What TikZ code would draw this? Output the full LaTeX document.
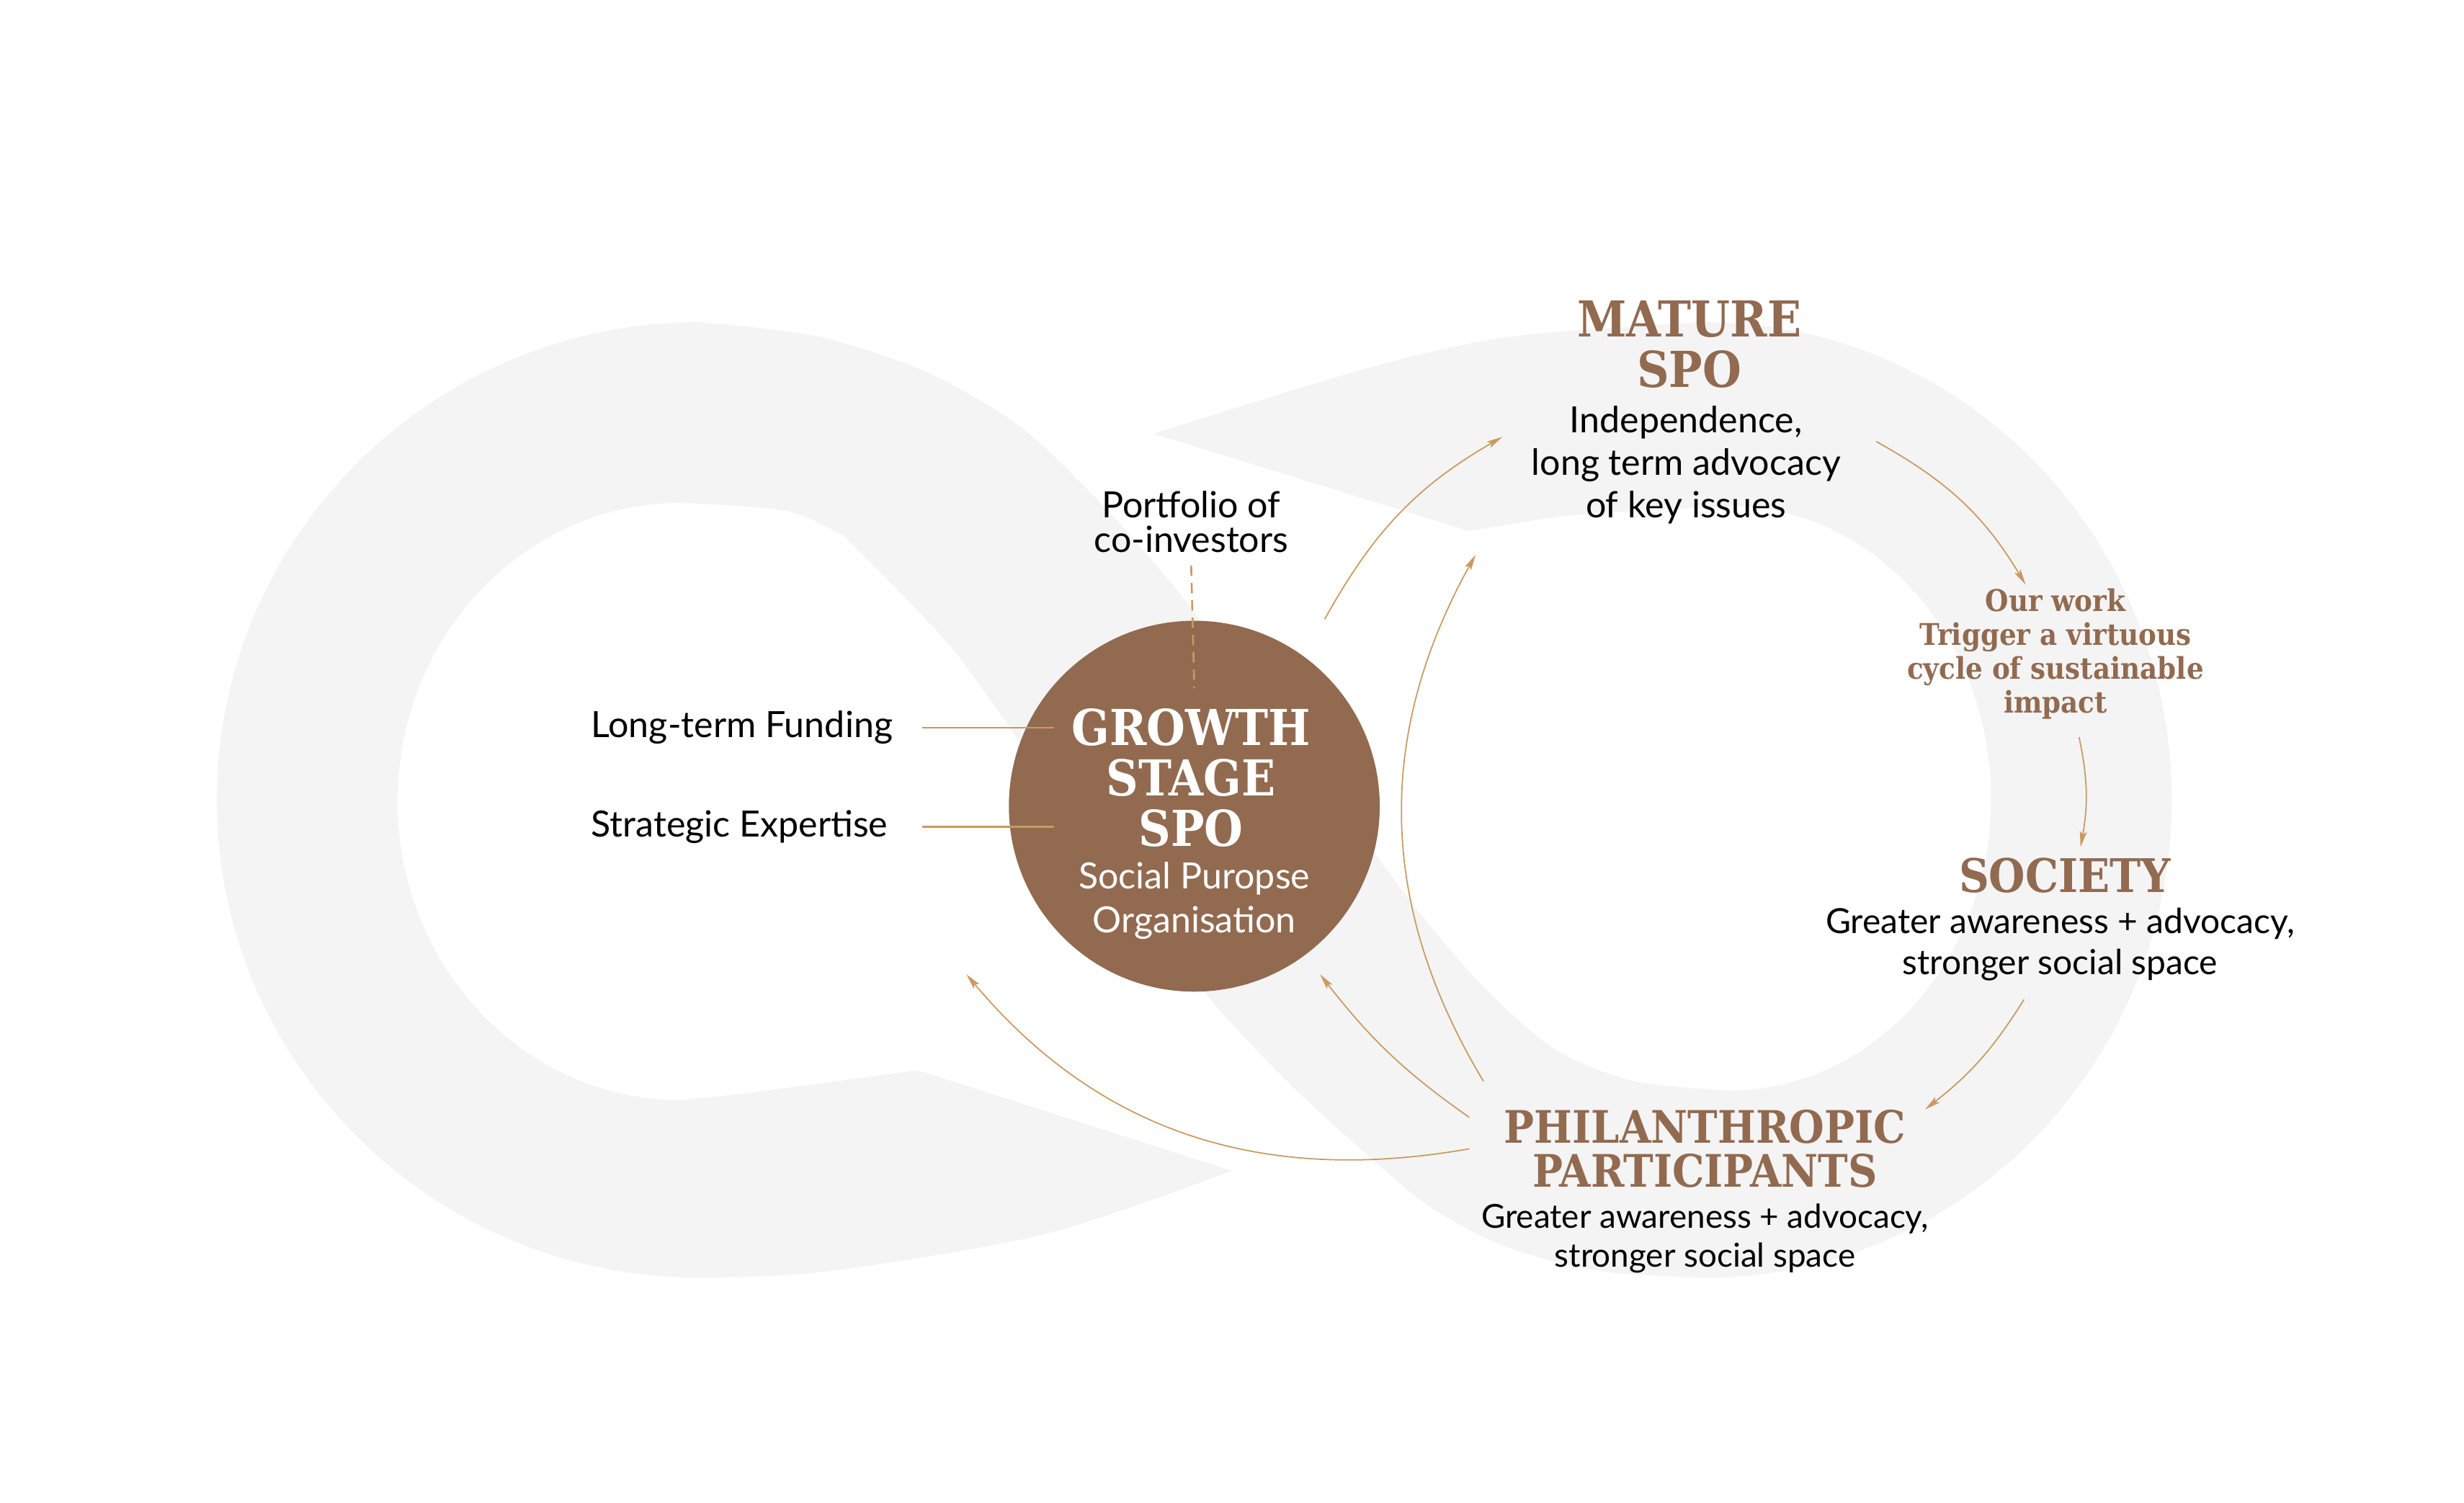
\documentclass[tikz,border=0pt]{standalone}
\usepackage{fontspec}
\setmainfont{Lato}
\newfontfamily\slabfont{DejaVu Serif Condensed}
\usepackage{xcolor}
\usepackage{tikz}
\usetikzlibrary{positioning}
\usetikzlibrary{arrows.meta}
\usetikzlibrary{calc}

\definecolor{spobrown}{HTML}{926A50}
\definecolor{flowtan}{HTML}{C99A5F}
\definecolor{ribbongray}{HTML}{F4F4F4}

\begin{document}
\begin{tikzpicture}[
x=1pt, y=1pt,
hub/.style={
  circle,
  fill=spobrown,
  minimum size=236pt,
  inner sep=0pt
},
heading/.style={
  font=\slabfont\bfseries\fontsize{31.5}{32}\selectfont,
  text=spobrown,
  align=center,
  inner sep=0pt
},
headw/.style={
  heading,
  text=white
},
note/.style={
  font=\slabfont\bfseries\fontsize{19}{21.5}\selectfont,
  text=spobrown,
  align=center,
  inner sep=0pt
},
body/.style={
  font=\fontsize{23}{27}\selectfont,
  align=center,
  inner sep=0pt
},
subw/.style={
  body,
  font=\fontsize{23}{28}\selectfont,
  text=white
},
  flow/.style={-{Stealth[length=10pt,width=4.5pt,inset=2pt]}, line width=0.8pt, flowtan},
  feed/.style={line width=1.2pt, flowtan},
  tie/.style={line width=1.2pt, flowtan, dash pattern=on 6.5pt off 4.5pt}
]
\useasboundingbox (0,0) rectangle (1568,956);

% ---- background infinity ribbon ----
\fill[ribbongray]
  plot[smooth] coordinates {(734,680) (871,722) (963,742) (1085,751)}
  arc[start angle=90, end angle=-90, x radius=297, y radius=304]
  -- plot[smooth] coordinates {(1085,143) (1020,147) (960,162) (910,188) (860,230) (816,271) (767,324) (700,412) (649,484) (602,548) (537,615)}
  -- plot[smooth] coordinates {(537,615) (500,631) (433,636)}
  arc[start angle=90, end angle=270, x radius=180, y radius=190]
  -- plot[smooth] coordinates {(433,256) (480,261) (584,275)}
  -- (784,211)
  -- plot[smooth] coordinates {(784,211) (666,171) (527,147) (445,143)}
  arc[start angle=-90, end angle=-270, x radius=307, y radius=304]
  -- plot[smooth] coordinates {(445,751) (520,742) (590,719) (650,684) (702,634) (751,578) (811,498) (871,418) (905,373) (945,327) (990,288) (1040,268) (1100,262)}
  arc[start angle=-90, end angle=90, x radius=167, y radius=186]
  -- plot[smooth] coordinates {(1100,634) (1000,628) (935,618)}
  -- cycle;

% ---- GROWTH STAGE SPO ----
\node[hub] (growth) at (760,443) {};
\node[headw] (growthtxt) at (758,461) {GROWTH\\STAGE\\SPO};
\node[subw] (growthsub) at (760,383) {Social Puropse\\Organisation};

\node[body, font=\fontsize{23}{22}\selectfont] (portf) at (758,624) {Portfolio of\\co-investors};
\node[body, anchor=west] (fund) at (376,493) {Long-term Funding};
\node[body, anchor=west] (strat) at (376,430) {Strategic Expertise};

\draw[tie] ([yshift=-28pt]portf.center) -- ([yshift=75pt]growth.center);
\draw[feed] ($(growth.west |- fund.east)+(-55,0)$) -- ($(growth.west |- fund.east)+(29,0)$);
\draw[feed] ($(growth.west |- strat.east)+(-55,0)$) -- ($(growth.west |- strat.east)+(29,0)$);

% ---- cycle ----
\node[heading] (mature) at (1075,737) {MATURE\\SPO};
\node[body] (matdesc) at (1073,660) {Independence,\\long term advocacy\\of key issues};

\node[note] (ourwork) at (1308,540) {Our work\\Trigger a virtuous\\cycle of sustainable\\impact};

\node[heading, font=\slabfont\bfseries\fontsize{29.5}{32}\selectfont] (society) at (1314,399) {SOCIETY};
\node[body, font=\fontsize{22}{26}\selectfont] (socdesc) at (1311,355) {Greater awareness + advocacy,\\stronger social space};

\node[heading, font=\slabfont\bfseries\fontsize{28.5}{28}\selectfont] (phil) at (1085,225) {PHILANTHROPIC\\PARTICIPANTS};
\node[body, font=\fontsize{21}{25}\selectfont] (phildesc) at (1085,168) {Greater awareness + advocacy,\\stronger social space};

\draw[flow] ([shift={(83,119)}]growth.center) to[out=61,in=210] ([shift={(-117,18)}]matdesc.center);
\draw[flow] ([shift={(121,15)}]matdesc.center) to[out=-29,in=121] ([shift={(-19,44)}]ourwork.center);
\draw[flow] ([shift={(15,-53)}]ourwork.center) to[out=-78,in=80] ([shift={(10,18)}]society.center);
\draw[flow] ([shift={(-23,-35)}]socdesc.center) to[out=-122,in=38] ([shift={(140,25)}]phil.center);
\draw[flow] ([shift={(-141,43)}]phil.center) to[out=121,in=241] ([shift={(-134,-57)}]matdesc.center);
\draw[flow] ([shift={(-150,20)}]phil.center) to[out=145,in=308] ([shift={(80,-107)}]growth.center);
\draw[flow] ([shift={(-150,0)}]phil.center) to[out=190,in=-50] ([shift={(-145,-107)}]growth.center);

\end{tikzpicture}
\end{document}
